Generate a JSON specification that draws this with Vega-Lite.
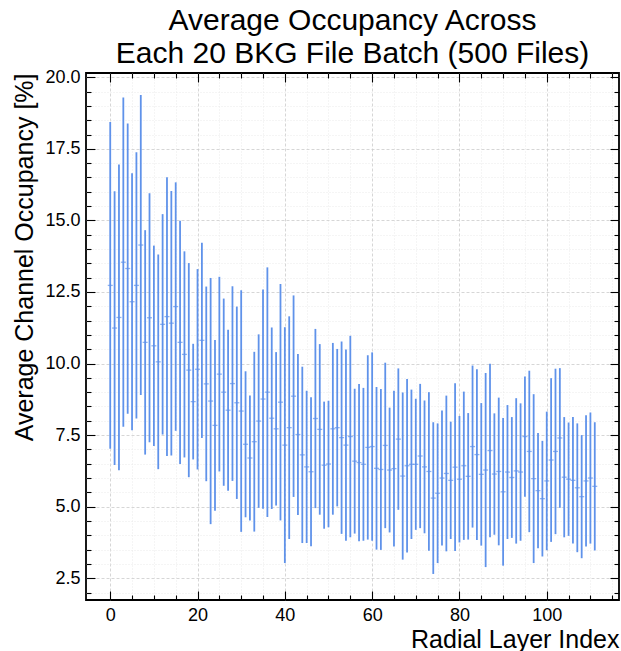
{
  "$schema": "https://vega.github.io/schema/vega-lite/v6.json",
  "width": 533,
  "height": 527,
  "autosize": {"type": "none"},
  "padding": {"left": 86, "top": 73, "right": 2, "bottom": 51},
  "background": "white",
  "config": {
    "font": "Liberation Sans",
    "view": {"stroke": "black", "strokeWidth": 1.8},
    "axis": {"labelFont": "Liberation Sans", "titleFont": "Liberation Sans", "labelColor": "black", "titleColor": "black", "tickColor": "black", "tickWidth": 1.1, "domain": false}
  },
  "title": {
    "text": ["Average Occupancy Across", "Each 20 BKG File Batch (500 Files)"],
    "fontSize": 30,
    "fontWeight": "normal",
    "font": "Liberation Sans",
    "color": "black",
    "anchor": "middle",
    "baseline": "bottom",
    "lineHeight": 33,
    "offset": -31
  },
  "datasets": {
    "occ": [
      {"layer": 0, "mean": 12.73, "lo": 7.02, "hi": 18.44},
      {"layer": 1, "mean": 11.24, "lo": 6.46, "hi": 16.02},
      {"layer": 2, "mean": 11.61, "lo": 6.27, "hi": 16.95},
      {"layer": 3, "mean": 13.54, "lo": 7.79, "hi": 19.29},
      {"layer": 4, "mean": 13.32, "lo": 8.25, "hi": 18.39},
      {"layer": 5, "mean": 12.16, "lo": 7.67, "hi": 16.65},
      {"layer": 6, "mean": 12.73, "lo": 8.08, "hi": 17.38},
      {"layer": 7, "mean": 14.14, "lo": 8.90, "hi": 19.38},
      {"layer": 8, "mean": 10.74, "lo": 6.82, "hi": 14.66},
      {"layer": 9, "mean": 11.60, "lo": 7.25, "hi": 15.95},
      {"layer": 10, "mean": 10.62, "lo": 7.12, "hi": 14.12},
      {"layer": 11, "mean": 10.06, "lo": 6.31, "hi": 13.81},
      {"layer": 12, "mean": 11.37, "lo": 7.52, "hi": 15.22},
      {"layer": 13, "mean": 11.64, "lo": 6.77, "hi": 16.51},
      {"layer": 14, "mean": 11.41, "lo": 6.79, "hi": 16.03},
      {"layer": 15, "mean": 11.99, "lo": 7.65, "hi": 16.33},
      {"layer": 16, "mean": 10.74, "lo": 6.49, "hi": 14.99},
      {"layer": 17, "mean": 10.32, "lo": 6.72, "hi": 13.92},
      {"layer": 18, "mean": 9.77, "lo": 6.03, "hi": 13.51},
      {"layer": 19, "mean": 8.67, "lo": 6.65, "hi": 10.69},
      {"layer": 20, "mean": 9.80, "lo": 6.30, "hi": 13.30},
      {"layer": 21, "mean": 10.81, "lo": 7.40, "hi": 14.22},
      {"layer": 22, "mean": 9.29, "lo": 5.89, "hi": 12.69},
      {"layer": 23, "mean": 8.69, "lo": 4.39, "hi": 12.99},
      {"layer": 24, "mean": 7.84, "lo": 4.86, "hi": 10.82},
      {"layer": 25, "mean": 9.63, "lo": 6.23, "hi": 13.03},
      {"layer": 26, "mean": 9.00, "lo": 5.73, "hi": 12.27},
      {"layer": 27, "mean": 8.37, "lo": 5.56, "hi": 11.18},
      {"layer": 28, "mean": 9.30, "lo": 5.90, "hi": 12.70},
      {"layer": 29, "mean": 8.63, "lo": 5.27, "hi": 11.99},
      {"layer": 30, "mean": 8.34, "lo": 4.12, "hi": 12.56},
      {"layer": 31, "mean": 7.18, "lo": 4.63, "hi": 9.73},
      {"layer": 32, "mean": 6.70, "lo": 4.52, "hi": 8.88},
      {"layer": 33, "mean": 7.27, "lo": 4.13, "hi": 10.41},
      {"layer": 34, "mean": 7.99, "lo": 4.96, "hi": 11.02},
      {"layer": 35, "mean": 8.76, "lo": 4.93, "hi": 12.59},
      {"layer": 36, "mean": 9.00, "lo": 4.64, "hi": 13.36},
      {"layer": 37, "mean": 8.09, "lo": 4.92, "hi": 11.26},
      {"layer": 38, "mean": 7.72, "lo": 5.04, "hi": 10.40},
      {"layer": 39, "mean": 8.65, "lo": 4.52, "hi": 12.78},
      {"layer": 40, "mean": 7.15, "lo": 3.03, "hi": 11.27},
      {"layer": 41, "mean": 7.76, "lo": 3.87, "hi": 11.65},
      {"layer": 42, "mean": 8.86, "lo": 5.34, "hi": 12.38},
      {"layer": 43, "mean": 7.52, "lo": 4.71, "hi": 10.33},
      {"layer": 44, "mean": 6.81, "lo": 3.73, "hi": 9.89},
      {"layer": 45, "mean": 6.39, "lo": 3.73, "hi": 9.05},
      {"layer": 46, "mean": 6.22, "lo": 3.62, "hi": 8.82},
      {"layer": 47, "mean": 8.08, "lo": 4.95, "hi": 11.21},
      {"layer": 48, "mean": 7.70, "lo": 4.72, "hi": 10.68},
      {"layer": 49, "mean": 6.45, "lo": 4.23, "hi": 8.67},
      {"layer": 50, "mean": 6.49, "lo": 4.28, "hi": 8.70},
      {"layer": 51, "mean": 7.72, "lo": 4.72, "hi": 10.72},
      {"layer": 52, "mean": 7.76, "lo": 5.01, "hi": 10.51},
      {"layer": 53, "mean": 7.41, "lo": 4.05, "hi": 10.77},
      {"layer": 54, "mean": 7.15, "lo": 3.81, "hi": 10.49},
      {"layer": 55, "mean": 7.45, "lo": 3.93, "hi": 10.97},
      {"layer": 56, "mean": 6.59, "lo": 4.06, "hi": 9.12},
      {"layer": 57, "mean": 6.54, "lo": 3.79, "hi": 9.29},
      {"layer": 58, "mean": 6.48, "lo": 3.81, "hi": 9.15},
      {"layer": 59, "mean": 7.07, "lo": 3.85, "hi": 10.29},
      {"layer": 60, "mean": 7.10, "lo": 3.81, "hi": 10.39},
      {"layer": 61, "mean": 6.34, "lo": 3.50, "hi": 9.18},
      {"layer": 62, "mean": 6.30, "lo": 3.49, "hi": 9.11},
      {"layer": 63, "mean": 7.14, "lo": 4.25, "hi": 10.03},
      {"layer": 64, "mean": 6.28, "lo": 4.10, "hi": 8.46},
      {"layer": 65, "mean": 6.33, "lo": 3.61, "hi": 9.05},
      {"layer": 66, "mean": 7.36, "lo": 4.89, "hi": 9.83},
      {"layer": 67, "mean": 6.07, "lo": 3.15, "hi": 8.99},
      {"layer": 68, "mean": 6.43, "lo": 3.40, "hi": 9.46},
      {"layer": 69, "mean": 6.48, "lo": 3.87, "hi": 9.09},
      {"layer": 70, "mean": 6.48, "lo": 4.19, "hi": 8.77},
      {"layer": 71, "mean": 6.77, "lo": 4.25, "hi": 9.29},
      {"layer": 72, "mean": 6.39, "lo": 4.07, "hi": 8.71},
      {"layer": 73, "mean": 6.23, "lo": 3.46, "hi": 9.00},
      {"layer": 74, "mean": 5.30, "lo": 2.65, "hi": 7.95},
      {"layer": 75, "mean": 5.47, "lo": 3.03, "hi": 7.91},
      {"layer": 76, "mean": 6.00, "lo": 3.64, "hi": 8.36},
      {"layer": 77, "mean": 6.16, "lo": 3.44, "hi": 8.88},
      {"layer": 78, "mean": 5.92, "lo": 3.87, "hi": 7.97},
      {"layer": 79, "mean": 6.38, "lo": 3.45, "hi": 9.31},
      {"layer": 80, "mean": 5.96, "lo": 3.75, "hi": 8.17},
      {"layer": 81, "mean": 6.43, "lo": 3.84, "hi": 9.02},
      {"layer": 82, "mean": 6.06, "lo": 3.85, "hi": 8.27},
      {"layer": 83, "mean": 7.10, "lo": 4.27, "hi": 9.93},
      {"layer": 84, "mean": 6.82, "lo": 3.84, "hi": 9.80},
      {"layer": 85, "mean": 6.13, "lo": 3.64, "hi": 8.62},
      {"layer": 86, "mean": 6.28, "lo": 2.89, "hi": 9.67},
      {"layer": 87, "mean": 6.96, "lo": 3.93, "hi": 9.99},
      {"layer": 88, "mean": 6.14, "lo": 4.02, "hi": 8.26},
      {"layer": 89, "mean": 6.23, "lo": 3.65, "hi": 8.81},
      {"layer": 90, "mean": 5.52, "lo": 2.94, "hi": 8.10},
      {"layer": 91, "mean": 6.21, "lo": 3.87, "hi": 8.55},
      {"layer": 92, "mean": 6.02, "lo": 3.91, "hi": 8.13},
      {"layer": 93, "mean": 6.25, "lo": 3.71, "hi": 8.79},
      {"layer": 94, "mean": 6.21, "lo": 3.81, "hi": 8.61},
      {"layer": 95, "mean": 7.45, "lo": 5.35, "hi": 9.55},
      {"layer": 96, "mean": 6.93, "lo": 4.11, "hi": 9.75},
      {"layer": 97, "mean": 5.98, "lo": 3.03, "hi": 8.93},
      {"layer": 98, "mean": 5.56, "lo": 3.55, "hi": 7.57},
      {"layer": 99, "mean": 5.28, "lo": 3.26, "hi": 7.30},
      {"layer": 100, "mean": 5.90, "lo": 3.48, "hi": 8.32},
      {"layer": 101, "mean": 6.63, "lo": 3.77, "hi": 9.49},
      {"layer": 102, "mean": 6.93, "lo": 4.04, "hi": 9.82},
      {"layer": 103, "mean": 7.40, "lo": 4.96, "hi": 9.84},
      {"layer": 104, "mean": 6.03, "lo": 3.93, "hi": 8.13},
      {"layer": 105, "mean": 5.96, "lo": 3.98, "hi": 7.94},
      {"layer": 106, "mean": 5.92, "lo": 3.71, "hi": 8.13},
      {"layer": 107, "mean": 5.66, "lo": 3.41, "hi": 7.91},
      {"layer": 108, "mean": 5.35, "lo": 3.20, "hi": 7.50},
      {"layer": 109, "mean": 5.90, "lo": 3.61, "hi": 8.19},
      {"layer": 110, "mean": 6.00, "lo": 3.71, "hi": 8.29},
      {"layer": 111, "mean": 5.71, "lo": 3.47, "hi": 7.95}
    ]
  },
  "data": {"name": "occ"},
  "layer": [
    {
      "mark": {"type": "rule", "opacity": 0},
      "encoding": {
        "x": {"field": "layer", "type": "quantitative", "scale": {"domain": [-5.55, 116.55], "nice": false, "zero": false},
          "axis": {"orient": "bottom", "title": null, "labels": false, "values": [5, 10, 15, 25, 30, 35, 45, 50, 55, 65, 70, 75, 85, 90, 95, 105, 110, 115], "tickSize": -5, "grid": true, "gridColor": "#e4e4e4", "gridDash": [1, 2], "gridWidth": 0.8}},
        "y": {"field": "lo", "type": "quantitative", "scale": {"domain": [1.74, 20.15], "nice": false, "zero": false},
          "axis": {"orient": "left", "title": null, "labels": false, "values": [2, 3, 3.5, 4, 4.5, 5.5, 6, 6.5, 7, 8, 8.5, 9, 9.5, 10.5, 11, 11.5, 12, 13, 13.5, 14, 14.5, 15.5, 16, 16.5, 17, 18, 18.5, 19, 19.5], "tickSize": -5, "grid": true, "gridColor": "#e4e4e4", "gridDash": [1, 2], "gridWidth": 0.8}},
        "y2": {"field": "hi"}
      }
    },
    {
      "mark": {"type": "rule", "opacity": 0},
      "encoding": {
        "x": {"field": "layer", "type": "quantitative",
          "axis": {"orient": "top", "title": null, "labels": false, "values": [5, 10, 15, 25, 30, 35, 45, 50, 55, 65, 70, 75, 85, 90, 95, 105, 110, 115], "tickSize": -5, "grid": false}},
        "y": {"field": "lo", "type": "quantitative",
          "axis": {"orient": "right", "title": null, "labels": false, "values": [2, 3, 3.5, 4, 4.5, 5.5, 6, 6.5, 7, 8, 8.5, 9, 9.5, 10.5, 11, 11.5, 12, 13, 13.5, 14, 14.5, 15.5, 16, 16.5, 17, 18, 18.5, 19, 19.5], "tickSize": -5, "grid": false}},
        "y2": {"field": "hi"}
      }
    },
    {
      "mark": {"type": "rule", "opacity": 0},
      "encoding": {
        "x": {"field": "layer", "type": "quantitative",
          "axis": {"orient": "top", "title": null, "labels": false, "values": [0, 20, 40, 60, 80, 100], "tickSize": -9, "grid": false}},
        "y": {"field": "lo", "type": "quantitative",
          "axis": {"orient": "right", "title": null, "labels": false, "values": [2.5, 5, 7.5, 10, 12.5, 15, 17.5, 20], "tickSize": -9, "grid": false}},
        "y2": {"field": "hi"}
      }
    },
    {
      "mark": {"type": "rule", "color": "#5f92ea", "strokeWidth": 1.8},
      "encoding": {
        "x": {"field": "layer", "type": "quantitative",
          "axis": {"orient": "bottom", "title": "Radial Layer Index", "titleAnchor": "end", "titleFontSize": 25, "titleFontWeight": "normal", "titleBaseline": "top", "titlePadding": 3, "values": [0, 20, 40, 60, 80, 100], "format": "d", "labelFontSize": 18, "labelPadding": 15, "tickSize": -9, "grid": true, "gridColor": "#cccccc", "gridDash": [3, 2], "gridWidth": 0.8}},
        "y": {"field": "lo", "type": "quantitative",
          "axis": {"orient": "left", "title": "Average Channel Occupancy [%]", "titleAnchor": "end", "titleFontSize": 25, "titleFontWeight": "normal", "titlePadding": 7, "values": [2.5, 5, 7.5, 10, 12.5, 15, 17.5, 20], "format": ".1f", "labelFontSize": 18, "labelPadding": 15, "tickSize": -9, "grid": true, "gridColor": "#cccccc", "gridDash": [3, 2], "gridWidth": 0.8}},
        "y2": {"field": "hi"}
      }
    },
    {
      "mark": {"type": "tick", "orient": "horizontal", "color": "#5f92ea", "size": 5, "thickness": 1.3},
      "encoding": {
        "x": {"field": "layer", "type": "quantitative", "axis": null},
        "y": {"field": "mean", "type": "quantitative", "axis": null}
      }
    }
  ],
  "resolve": {"axis": {"x": "independent", "y": "independent"}}
}
